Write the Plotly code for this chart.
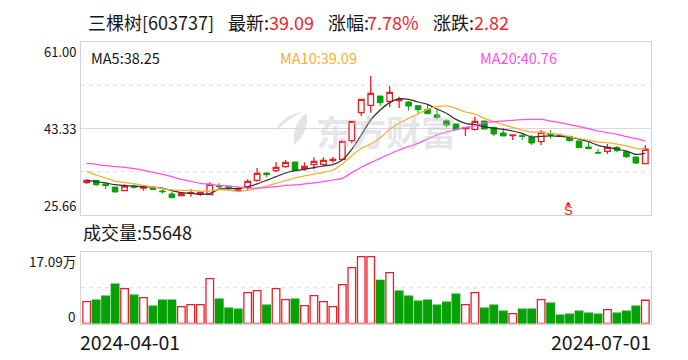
import plotly.graph_objects as go

W, H = 688, 360
UP = "#f5222d"
DOWN = "#06a106"
GRID = "#d8d8de"
BORDER = "#d3d3da"
TEXT = "#161616"

opens = [32.26,32.74,32.0,31.38,30.63,31.58,31.17,31.11,30.56,29.95,29.61,30.08,29.88,29.81,31.58,31.58,30.63,31.31,32.74,34.24,
         34.71,35.53,36.49,35.19,35.94,36.01,36.83,37.03,40.84,46.56,48.06,49.97,48.88,49.02,48.74,47.99,47.25,46.09,44.93,44.25,
         43.30,43.16,44.86,43.57,42.41,41.87,41.87,41.53,40.64,42.27,42.0,41.73,40.78,39.55,38.46,38.66,39.48,38.60,37.51,36.14]
closes = [32.74,31.85,31.65,30.36,31.58,31.31,31.31,30.90,30.42,29.20,30.02,30.22,30.29,31.92,31.45,31.24,30.77,32.54,34.17,33.90,
          35.40,36.42,34.71,35.60,36.62,36.83,37.03,40.71,44.79,49.29,50.51,48.61,50.72,49.29,47.93,47.18,46.36,45.61,44.04,43.09,
          43.50,44.79,43.23,42.21,41.80,42.0,41.73,40.37,42.55,42.0,41.80,40.84,39.41,39.21,38.33,39.48,38.80,37.57,36.27,39.09]
highs = [32.94,32.74,32.0,31.38,31.92,31.92,31.65,31.11,31.04,30.42,30.15,30.90,30.42,32.33,32.13,31.58,31.45,32.94,35.26,34.24,
         36.49,36.89,36.49,36.42,37.44,37.44,37.51,40.71,44.79,49.29,54.05,49.97,52.01,49.83,48.88,47.99,48.33,47.25,45.20,44.39,
         43.57,45.75,44.86,43.57,43.36,42.14,42.21,42.0,43.02,43.02,42.34,41.80,40.78,40.44,39.14,40.16,39.76,38.94,37.51,39.96]
lows = [32.06,31.58,30.97,30.29,30.49,31.04,30.63,30.83,30.02,29.20,29.47,29.40,29.61,29.68,30.77,30.77,30.42,30.77,32.47,33.42,
        34.44,35.33,34.71,34.71,34.99,35.53,36.35,36.89,40.30,45.88,46.56,47.93,47.65,47.52,46.97,46.43,46.29,45.20,43.64,43.02,
        41.80,42.89,43.23,41.80,41.80,40.98,40.98,39.96,39.96,41.25,41.66,40.64,39.41,39.21,38.33,38.12,38.53,37.30,36.08,36.14]
ma5 = [32.67,32.47,32.2,31.85,31.65,31.58,31.45,31.38,31.17,30.63,30.22,30.08,29.88,30.02,30.97,31.04,31.04,31.45,32.0,32.74,
       33.49,34.24,34.71,34.99,35.33,35.67,35.94,36.89,39.07,42.0,45.07,47.11,48.61,49.42,49.29,48.74,48.27,47.31,46.43,45.2,
       44.39,44.11,43.70,43.36,43.16,42.82,42.34,41.59,41.73,41.80,41.73,41.59,41.18,40.64,39.89,39.48,39.14,38.73,38.05,38.25]
ma10 = [34.58,33.83,33.22,32.60,32.33,32.06,31.72,31.38,31.04,30.77,30.70,30.70,30.56,30.56,30.83,30.70,30.49,30.70,31.11,31.58,
        32.13,32.67,33.22,33.63,34.03,34.37,34.85,36.08,37.78,39.28,40.16,41.39,43.16,44.39,45.41,46.29,47.25,47.79,47.93,47.45,
        46.70,46.29,45.41,44.73,44.11,43.57,43.02,42.61,42.55,42.34,42.07,41.66,41.25,40.98,40.57,40.44,40.16,39.76,39.28,39.09]
ma20 = [36.21,36.01,35.74,35.53,35.40,35.12,34.78,34.37,33.97,33.49,32.94,32.53,32.13,31.92,31.72,31.51,31.38,31.17,31.17,31.31,
        31.45,31.72,31.79,32.0,32.2,32.47,32.81,33.15,34.31,35.40,36.35,37.23,38.12,38.94,39.62,40.30,41.18,42.0,42.61,43.09,
        43.57,43.84,44.52,44.73,44.86,45.0,45.13,45.20,45.20,44.86,44.52,44.11,43.70,43.30,42.82,42.48,42.14,41.66,41.25,40.76]
volumes = [5.25,5.56,6.52,9.38,8.35,6.76,6.20,4.13,5.56,5.56,4.05,4.53,4.53,10.73,5.80,3.66,3.42,7.39,7.87,4.37,
           8.35,5.72,5.80,4.29,6.68,5.25,4.05,9.30,13.35,15.98,15.98,10.33,12.16,7.71,6.52,5.33,5.56,4.37,5.09,7.0,
           4.53,7.39,3.66,4.37,2.94,2.38,3.42,3.42,5.72,4.85,1.99,2.23,2.94,2.46,2.23,3.34,2.46,2.94,4.13,5.56]
vol_up = [1,0,0,0,1,0,1,0,0,0,1,1,1,1,0,0,0,1,1,0,
          1,1,0,1,1,1,1,1,1,1,1,0,1,0,0,0,0,0,0,0,
          1,1,0,0,0,1,0,0,1,0,0,0,0,0,0,1,0,0,0,1]
x = list(range(len(closes)))

price_ticks = [61.00, 43.33, 25.66]
price_labels = ["61.00", "43.33", "25.66"]
vol_ticks = ["17.09万", "0"]
date_labels = ["2024-04-01", "2024-07-01"]
VOL_MAX = 17.09
sell_index = 51

fig = go.Figure()
fig.add_trace(go.Candlestick(
    x=x, open=opens, high=highs, low=lows, close=closes, whiskerwidth=0,
    increasing=dict(line=dict(color="#f01c24", width=1.3), fillcolor="white"),
    decreasing=dict(line=dict(color=DOWN, width=1), fillcolor=DOWN),
    hoverinfo="skip", xaxis="x", yaxis="y"))
for values, color in ((ma5, "#333333"), (ma10, "#f7ae33"), (ma20, "#ff4fec")):
    fig.add_trace(go.Scatter(x=x, y=values, mode="lines", hoverinfo="skip",
                             line=dict(color=color, width=1.25, shape="spline", smoothing=0.6),
                             xaxis="x", yaxis="y"))
fig.add_trace(go.Bar(
    x=x, y=volumes, width=0.8,
    marker=dict(color=["white" if u else DOWN for u in vol_up],
                line=dict(color=["#f01c24" if u else DOWN for u in vol_up], width=1.3)),
    hoverinfo="skip", xaxis="x2", yaxis="y2"))
fig.add_trace(go.Scatter(x=[sell_index - 0.15], y=[27.85], mode="markers", hoverinfo="skip",
                         marker=dict(symbol="triangle-up", size=5, color="#ee1111"),
                         xaxis="x", yaxis="y"))

def ann(text, px, py, size=16, color=TEXT, anchor="left", family="Noto Sans CJK SC", **kw):
    fig.add_annotation(text=text, x=px / W, y=1 - py / H, xref="paper", yref="paper",
                       xanchor=anchor, yanchor="middle", showarrow=False,
                       font=dict(size=size, color=color, family=family), **kw)

# watermark: wordmark and logo
ann("<b>东方财富</b>", 314, 130, size=35, color="rgba(195,195,205,0.42)")
def logo_path(points):
    out = []
    for cmd, coords in points:
        vals = []
        for k in range(0, len(coords), 2):
            vals += [f"{coords[k] / W:.5f}", f"{1 - coords[k + 1] / H:.5f}"]
        out.append(cmd + " " + " ".join(vals))
    return " ".join(out) + " Z"
for pts in (
    [("M", [303, 112]), ("C", [288, 114, 276, 124, 277, 131]), ("C", [280, 126, 290, 118, 303, 112])],
    [("M", [306, 113]), ("C", [298, 120, 292, 130, 294, 145]), ("C", [303, 138, 310, 125, 306, 113])],
):
    fig.add_shape(type="path", xref="paper", yref="paper", layer="below", path=logo_path(pts),
                  fillcolor="#e4e4e8", line=dict(width=0))

# titles
for text, px, color in (("三棵树[603737]", 86, TEXT), ("最新:", 226, TEXT), ("39.09", 267, UP),
                        ("涨幅:", 326, TEXT), ("7.78%", 365, UP), ("涨跌:", 431, TEXT), ("2.82", 472, UP)):
    ann(text, px, 22, size=18, color=color)
ann("MA5:38.25", 89, 57, size=14.5)
ann("MA10:39.09", 278, 57, size=14.5, color="#f7ae33")
ann("MA20:40.76", 478, 57, size=14.5, color="#ff4fec")
ann("成交量:55648", 81, 232, size=18)

for label, py in zip(price_labels, (52, 128, 205)):
    ann(label, 78, py, size=13, anchor="right")
for label, py in zip(vol_ticks, (261, 316)):
    ann(label, 78, py, size=13.5, anchor="right")
ann(date_labels[0], 78, 341, size=19.5)
ann(date_labels[1], 653, 341, size=19.5, anchor="right")

fig.add_annotation(text="S", x=sell_index - 0.1, y=26.5, xref="x", yref="y", showarrow=False,
                   font=dict(size=13, color="#ee1111", family="Liberation Sans"))

# grid lines at quarter and half of each panel
for yval, dash in ((52.165, "dash"), (43.33, "solid"), (34.495, "dash")):
    fig.add_shape(type="line", xref="x domain", yref="y", x0=0, x1=1, y0=yval, y1=yval, layer="below",
                  line=dict(color=GRID, width=1, dash="4px,4px" if dash == "dash" else "solid"))
fig.add_shape(type="line", xref="x2 domain", yref="y2", x0=0, x1=1, y0=VOL_MAX / 2, y1=VOL_MAX / 2, layer="below",
              line=dict(color=GRID, width=1, dash="4px,4px"))

axis = dict(showline=True, mirror=True, linecolor=BORDER, linewidth=1, showgrid=False, zeroline=False,
            ticks="", showticklabels=False)
fig.update_layout(
    width=W, height=H, margin=dict(l=0, r=0, t=0, b=0), paper_bgcolor="white", plot_bgcolor="white",
    showlegend=False, boxgap=0.16, boxmode="overlay", dragmode=False,
    xaxis=dict(axis, domain=[81 / W, 651 / W], range=[-0.6, 59.6], rangeslider=dict(visible=False), anchor="y"),
    yaxis=dict(axis, domain=[1 - 215 / H, 1 - 42 / H], range=[price_ticks[2], price_ticks[0]], anchor="x"),
    xaxis2=dict(axis, domain=[81 / W, 651 / W], range=[-0.6, 59.6], anchor="y2"),
    yaxis2=dict(axis, domain=[1 - 323.5 / H, 1 - 252 / H], range=[0, VOL_MAX], anchor="x2"),
)
fig.write_html("out.html", config=dict(displayModeBar=False),
               post_script="document.body.style.margin='0';")
